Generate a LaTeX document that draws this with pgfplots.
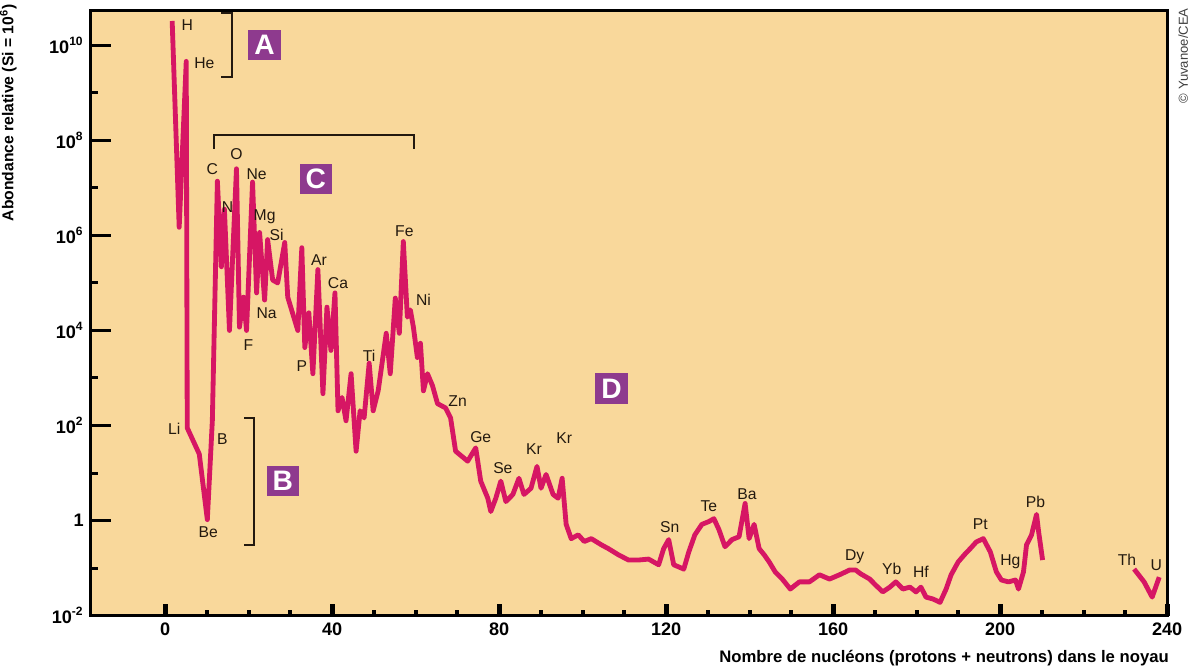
\documentclass[border=0pt]{standalone}
\usepackage{pgfplots}
\pgfplotsset{compat=1.18}
\usepackage{fontspec}
\setmainfont{Liberation Sans}
\definecolor{bgcol}{RGB}{249,216,155}
\definecolor{curve}{RGB}{214,22,100}
\definecolor{purp}{RGB}{142,58,142}
\definecolor{ink}{RGB}{35,25,15}

% abundance curve, log10 of abundance relative to Si = 10^6
\pgfplotstableread{
A logab
1.69 10.51
3.37 6.17
5.06 9.66
5.30 1.95
8.18 1.40
10.11 0.02
11.31 2.10
12.52 7.14
13.48 5.34
14.20 6.55
15.41 4.00
17.09 7.40
17.81 4.07
18.78 4.70
19.50 4.00
20.94 7.12
21.91 4.79
22.63 6.06
23.83 4.64
24.55 5.91
25.76 5.06
26.96 5.00
28.65 5.85
29.37 4.70
31.78 4.00
32.74 5.74
33.46 3.64
34.42 4.37
35.39 3.09
36.59 5.28
37.80 2.67
38.76 4.49
39.72 3.58
40.68 4.79
41.41 2.31
42.37 2.59
43.33 2.10
44.54 3.09
45.74 1.46
46.70 2.31
47.66 2.16
48.87 3.31
49.83 2.31
51.03 2.73
52.96 3.94
53.92 3.09
55.13 4.68
56.09 3.94
57.05 5.87
58.02 4.28
58.74 4.43
59.46 4.07
60.42 3.43
61.15 3.73
61.87 2.73
62.83 3.09
64.03 2.84
65.24 2.46
67.16 2.37
68.37 2.16
69.57 1.46
72.46 1.25
74.39 1.53
75.59 0.83
77.28 0.47
78.00 0.19
79.20 0.47
80.40 0.83
81.61 0.40
83.29 0.55
84.74 0.89
85.94 0.55
87.63 0.68
89.07 1.14
90.03 0.68
91.24 0.97
92.92 0.55
94.13 0.47
95.09 0.89
96.05 -0.08
97.26 -0.38
98.94 -0.30
100.39 -0.44
102.07 -0.38
104.48 -0.51
106.16 -0.59
108.57 -0.72
110.98 -0.83
113.38 -0.83
115.79 -0.81
118.20 -0.93
119.40 -0.59
120.61 -0.40
121.81 -0.93
124.22 -1.02
125.42 -0.66
126.87 -0.30
128.55 -0.08
130.24 -0.02
131.44 0.04
132.64 -0.19
134.09 -0.55
135.78 -0.40
137.46 -0.34
138.91 0.36
139.87 -0.38
141.07 -0.08
142.27 -0.59
143.48 -0.72
144.68 -0.87
146.12 -1.08
147.81 -1.23
149.73 -1.44
151.90 -1.29
154.31 -1.29
156.72 -1.14
159.12 -1.23
161.53 -1.14
163.94 -1.04
165.38 -1.04
166.59 -1.12
168.75 -1.23
170.20 -1.36
171.88 -1.50
173.57 -1.40
175.01 -1.29
176.70 -1.44
178.38 -1.40
179.83 -1.50
181.03 -1.40
182.23 -1.61
183.92 -1.65
185.60 -1.72
187.05 -1.44
188.25 -1.14
189.94 -0.87
191.62 -0.70
192.83 -0.59
194.27 -0.45
195.96 -0.38
197.64 -0.66
199.09 -1.08
200.29 -1.25
201.97 -1.29
203.66 -1.25
204.38 -1.44
205.58 -1.08
206.31 -0.51
207.51 -0.30
208.71 0.13
209.20 -0.23
210.16 -0.83
}\mainbranch

\pgfplotstableread{
A logab
232.07 -1.02
234.47 -1.29
236.40 -1.61
238.09 -1.19
}\actinides

\begin{document}
\begin{tikzpicture}
\begin{axis}[
    scale only axis,
    width=535pt, height=301pt,
    xmin=-17.8, xmax=240,
    ymin=-2, ymax=10.74,
    axis background/.style={fill=bgcol},
    axis line style={line width=1.5pt, black},
    tick align=inside,
    xtick={0,40,...,240},
    ytick={-2,0,...,10},
    yticklabels={10\textsuperscript{-2},1,10\textsuperscript{2},10\textsuperscript{4},10\textsuperscript{6},10\textsuperscript{8},10\textsuperscript{10}},
    major tick length=0pt,
    tick label style={font=\bfseries\fontsize{9}{9}\selectfont},
    /pgf/number format/assume math mode=true,
    clip=false,
]
% tick marks, lengths given in axis units
\pgfplotsinvokeforeach{0,40,80,120,160,200,240}{
  \draw[line width=2.5pt] (axis cs:#1,-2) -- (axis cs:#1,-1.75);
}
\pgfplotsinvokeforeach{10,20,30,50,60,70,90,100,110,130,140,150,170,180,190,210,220,230}{
  \draw[line width=2pt] (axis cs:#1,-2) -- (axis cs:#1,-1.89);
}
\pgfplotsinvokeforeach{0,2,4,6,8,10}{
  \draw[line width=1.5pt] (axis cs:-17.8,#1) -- (axis cs:-13.0,#1);
}
\pgfplotsinvokeforeach{-1,1,3,5,7,9}{
  \draw[line width=1.5pt] (axis cs:-17.8,#1) -- (axis cs:-16.1,#1);
}

\addplot[curve, line width=2.4pt, line join=round, no marks] table[x=A, y=logab] {\mainbranch};
\addplot[curve, line width=2.4pt, line join=round, no marks] table[x=A, y=logab] {\actinides};

% brackets
\draw[ink, line width=1pt] (axis cs:13.5,10.68) -- (axis cs:16.1,10.68) -- (axis cs:16.1,9.34) -- (axis cs:13.5,9.34);
\draw[ink, line width=1pt] (axis cs:19.0,2.16) -- (axis cs:21.4,2.16) -- (axis cs:21.4,-0.51) -- (axis cs:19.0,-0.51);
\draw[ink, line width=1pt] (axis cs:11.6,7.82) -- (axis cs:11.6,8.11) -- (axis cs:59.5,8.11) -- (axis cs:59.5,7.82);

% boxed letters
\tikzset{zone/.style={fill=purp, text=white, font=\bfseries\fontsize{14}{14}\selectfont, minimum width=16pt, minimum height=15pt, inner sep=0pt}}
\node[zone] at (axis cs:23.8,10.0) {A};
\node[zone] at (axis cs:28.2,0.83) {B};
\node[zone] at (axis cs:36.1,7.18) {C};
\node[zone] at (axis cs:106.9,2.78) {D};

% element labels
\tikzset{el/.style={font=\fontsize{7.8}{8}\selectfont, text=ink, inner sep=0pt}}
\node[el] at (axis cs:5.30,10.42) {H};
\node[el] at (axis cs:9.39,9.62) {He};
\node[el] at (axis cs:11.31,7.39) {C};
\node[el] at (axis cs:17.09,7.71) {O};
\node[el] at (axis cs:21.91,7.29) {Ne};
\node[el] at (axis cs:14.93,6.59) {N};
\node[el] at (axis cs:23.83,6.40) {Mg};
\node[el] at (axis cs:26.72,6.02) {Si};
\node[el] at (axis cs:24.31,4.36) {Na};
\node[el] at (axis cs:2.17,1.93) {Li};
\node[el] at (axis cs:13.72,1.72) {B};
\node[el] at (axis cs:10.35,-0.25) {Be};
\node[el] at (axis cs:19.98,3.69) {F};
\node[el] at (axis cs:36.83,5.49) {Ar};
\node[el] at (axis cs:41.41,5.00) {Ca};
\node[el] at (axis cs:32.74,3.24) {P};
\node[el] at (axis cs:48.87,3.47) {Ti};
\node[el] at (axis cs:57.29,6.08) {Fe};
\node[el] at (axis cs:61.87,4.64) {Ni};
\node[el] at (axis cs:70.05,2.52) {Zn};
\node[el] at (axis cs:75.59,1.76) {Ge};
\node[el] at (axis cs:80.89,1.10) {Se};
\node[el] at (axis cs:88.35,1.50) {Kr};
\node[el] at (axis cs:95.57,1.74) {Kr};
\node[el] at (axis cs:120.85,-0.13) {Sn};
\node[el] at (axis cs:130.24,0.30) {Te};
\node[el] at (axis cs:139.38,0.55) {Ba};
\node[el] at (axis cs:165.14,-0.76) {Dy};
\node[el] at (axis cs:174.05,-1.02) {Yb};
\node[el] at (axis cs:181.03,-1.08) {Hf};
\node[el] at (axis cs:195.23,-0.08) {Pt};
\node[el] at (axis cs:202.45,-0.87) {Hg};
\node[el] at (axis cs:208.47,0.40) {Pb};
\node[el] at (axis cs:230.38,-0.83) {Th};
\node[el] at (axis cs:237.36,-0.93) {U};

% axis titles and credit
\path ([yshift=5pt]rel axis cs:0,1);
\node[rotate=90, anchor=east, font=\bfseries\fontsize{7.8}{8}\selectfont, inner sep=0pt]
  at ([xshift=-41pt, yshift=3pt]rel axis cs:0,1) {Abondance relative (Si = 10\textsuperscript{6})};
\node[anchor=north east, font=\bfseries\fontsize{8.3}{8.3}\selectfont, inner sep=0pt]
  at ([yshift=-17pt, xshift=1pt]rel axis cs:1,0) {Nombre de nucléons (protons + neutrons) dans le noyau};
\node[rotate=90, anchor=east, font=\fontsize{6.5}{6.5}\selectfont, text=black!75, inner sep=0pt]
  at ([xshift=8pt, yshift=1pt]rel axis cs:1,1) {© Yuvanoe/CEA};
\end{axis}
\end{tikzpicture}
\end{document}
